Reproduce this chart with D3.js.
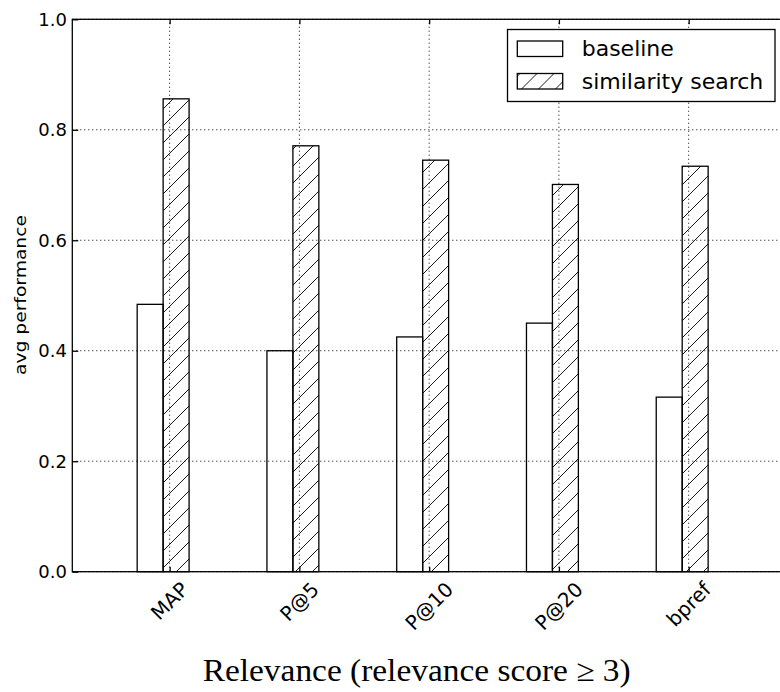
<!DOCTYPE html>
<html>
<head>
<meta charset="utf-8">
<script src="https://cdn.jsdelivr.net/npm/d3@7"></script>
<style>
  body { margin: 0; background: #fff; }
  svg { display: block; }
  text { font-family: 'DejaVu Sans', sans-serif; fill: #000; }
</style>
</head>
<body>
<div class="chart"></div>
<script>
// values
const metrics = ['MAP', 'P@5', 'P@10', 'P@20', 'bpref']
const baseline = [0.484, 0.4, 0.425, 0.45, 0.316]
const similarity = [0.856, 0.771, 0.745, 0.701, 0.734]
const yTicks = [0.0, 0.2, 0.4, 0.6, 0.8, 1.0]
const seriesNames = ['baseline', 'similarity search']

const width = 780
const height = 692
const barW = 0.2

const svg = d3
  .select('.chart')
  .append('svg')
  .attr('width', width)
  .attr('height', height)

// hatch for the similarity bars
const defs = svg.append('defs')
const hs = 17
defs
  .append('pattern')
  .attr('id', 'hatch')
  .attr('patternUnits', 'userSpaceOnUse')
  .attr('width', hs)
  .attr('height', hs)
  .append('path')
  .attr('d', `M0,${hs} L${hs},0 M${-hs / 4},${hs / 4} L${hs / 4},${-hs / 4} M${hs * 0.75},${hs * 1.25} L${hs * 1.25},${hs * 0.75}`)
  .style('stroke', '#000')
  .style('stroke-width', 0.9)

// x in "group units": bars at i and i + 0.2, tick at i + 0.25
const x = d3.scaleLinear().domain([-0.5, 5]).range([72.3, 786])
const y = d3.scaleLinear().domain([0, 1]).range([571.7, 19.3])
const xTickPos = metrics.map((d, i) => i + 0.25)

// bars
svg
  .selectAll('.base')
  .data(baseline)
  .enter()
  .append('rect')
  .attr('x', (d, i) => x(i))
  .attr('y', (d) => y(d))
  .attr('width', x(barW) - x(0))
  .attr('height', (d) => y(0) - y(d))
  .style('fill', '#fff')
  .style('stroke', '#000')
  .style('stroke-width', 1.3)

svg
  .selectAll('.sim')
  .data(similarity)
  .enter()
  .append('rect')
  .attr('x', (d, i) => x(i + barW))
  .attr('y', (d) => y(d))
  .attr('width', x(barW) - x(0))
  .attr('height', (d) => y(0) - y(d))
  .style('fill', 'url(#hatch)')
  .style('stroke', '#000')
  .style('stroke-width', 1.3)

// dotted grid (drawn above the bars like the original)
const grid = svg.append('g').attr('class', 'grid')
grid
  .selectAll('.hg')
  .data(yTicks)
  .enter()
  .append('line')
  .attr('x1', x(-0.5))
  .attr('x2', x(5))
  .attr('y1', (d) => y(d))
  .attr('y2', (d) => y(d))
grid
  .selectAll('.vg')
  .data(xTickPos)
  .enter()
  .append('line')
  .attr('x1', (d) => x(d))
  .attr('x2', (d) => x(d))
  .attr('y1', y(0))
  .attr('y2', y(1))
grid
  .selectAll('line')
  .style('stroke', '#000')
  .style('stroke-width', 1)
  .style('stroke-dasharray', '1,3')

// axes frame
svg
  .append('rect')
  .attr('x', x(-0.5))
  .attr('y', y(1))
  .attr('width', x(5) - x(-0.5))
  .attr('height', y(0) - y(1))
  .style('fill', 'none')
  .style('stroke', '#000')
  .style('stroke-width', 1.3)

// y axis: inward ticks
const yAxis = svg
  .append('g')
  .attr('transform', `translate(${x(-0.5)},0)`)
  .call(d3.axisRight(y).tickValues(yTicks).tickSize(6).tickFormat(''))
yAxis.select('.domain').remove()
yAxis.selectAll('line').style('stroke', '#000').style('stroke-width', 1.3)

svg
  .selectAll('.ylab')
  .data(yTicks)
  .enter()
  .append('text')
  .attr('x', 67)
  .attr('y', (d) => y(d))
  .attr('text-anchor', 'end')
  .attr('dominant-baseline', 'central')
  .style('font-size', '18px')
  .text((d) => d.toFixed(1))

// x ticks top and bottom (inward)
const xTop = svg
  .append('g')
  .attr('transform', `translate(0,${y(1)})`)
  .call(d3.axisBottom(x).tickValues(xTickPos).tickSize(5).tickFormat(''))
const xBot = svg
  .append('g')
  .attr('transform', `translate(0,${y(0)})`)
  .call(d3.axisTop(x).tickValues(xTickPos).tickSize(5).tickFormat(''))
;[xTop, xBot].forEach((g) => {
  g.select('.domain').remove()
  g.selectAll('line').style('stroke', '#000').style('stroke-width', 1.3)
})

// rotated category labels, bbox centred on the tick
svg
  .selectAll('.xlab')
  .data(metrics)
  .enter()
  .append('text')
  .style('font-size', '20px')
  .attr('text-anchor', 'middle')
  .attr('dominant-baseline', 'central')
  .text((d) => d)
  .attr('transform', function (d, i) {
    const w = this.getComputedTextLength()
    const h = 22
    const cy = 578 + (w + h) / (2 * Math.SQRT2)
    return `translate(${x(xTickPos[i])},${cy}) rotate(-45)`
  })

// y label
svg
  .append('text')
  .attr('transform', 'translate(26,295) rotate(-90)')
  .attr('text-anchor', 'middle')
  .attr('textLength', 160)
  .attr('lengthAdjust', 'spacingAndGlyphs')
  .style('font-size', '15px')
  .text('avg performance')

// x label
svg
  .append('text')
  .attr('x', 202.7)
  .attr('y', 681)
  .attr('textLength', 428)
  .attr('lengthAdjust', 'spacingAndGlyphs')
  .style('font-family', "'Liberation Serif', 'DejaVu Serif', serif")
  .style('font-size', '31px')
  .text('Relevance (relevance score \u2265 3)')

// legend
const legend = svg.append('g')
legend
  .append('rect')
  .attr('x', 507.5)
  .attr('y', 29.5)
  .attr('width', 267.5)
  .attr('height', 72)
  .style('fill', '#fff')
  .style('stroke', '#000')
  .style('stroke-width', 1.3)

const rows = legend
  .selectAll('.row')
  .data(seriesNames)
  .enter()
  .append('g')
  .attr('transform', (d, i) => `translate(0,${i * 32.5})`)
rows
  .append('rect')
  .attr('x', 517.3)
  .attr('y', 41)
  .attr('width', 45.4)
  .attr('height', 15.5)
  .style('fill', (d, i) => (i ? 'url(#hatch)' : '#fff'))
  .style('stroke', '#000')
  .style('stroke-width', 1.3)
rows
  .append('text')
  .attr('x', 581.7)
  .attr('y', 56)
  .style('font-size', '22px')
  .text((d) => d)
</script>
</body>
</html>
